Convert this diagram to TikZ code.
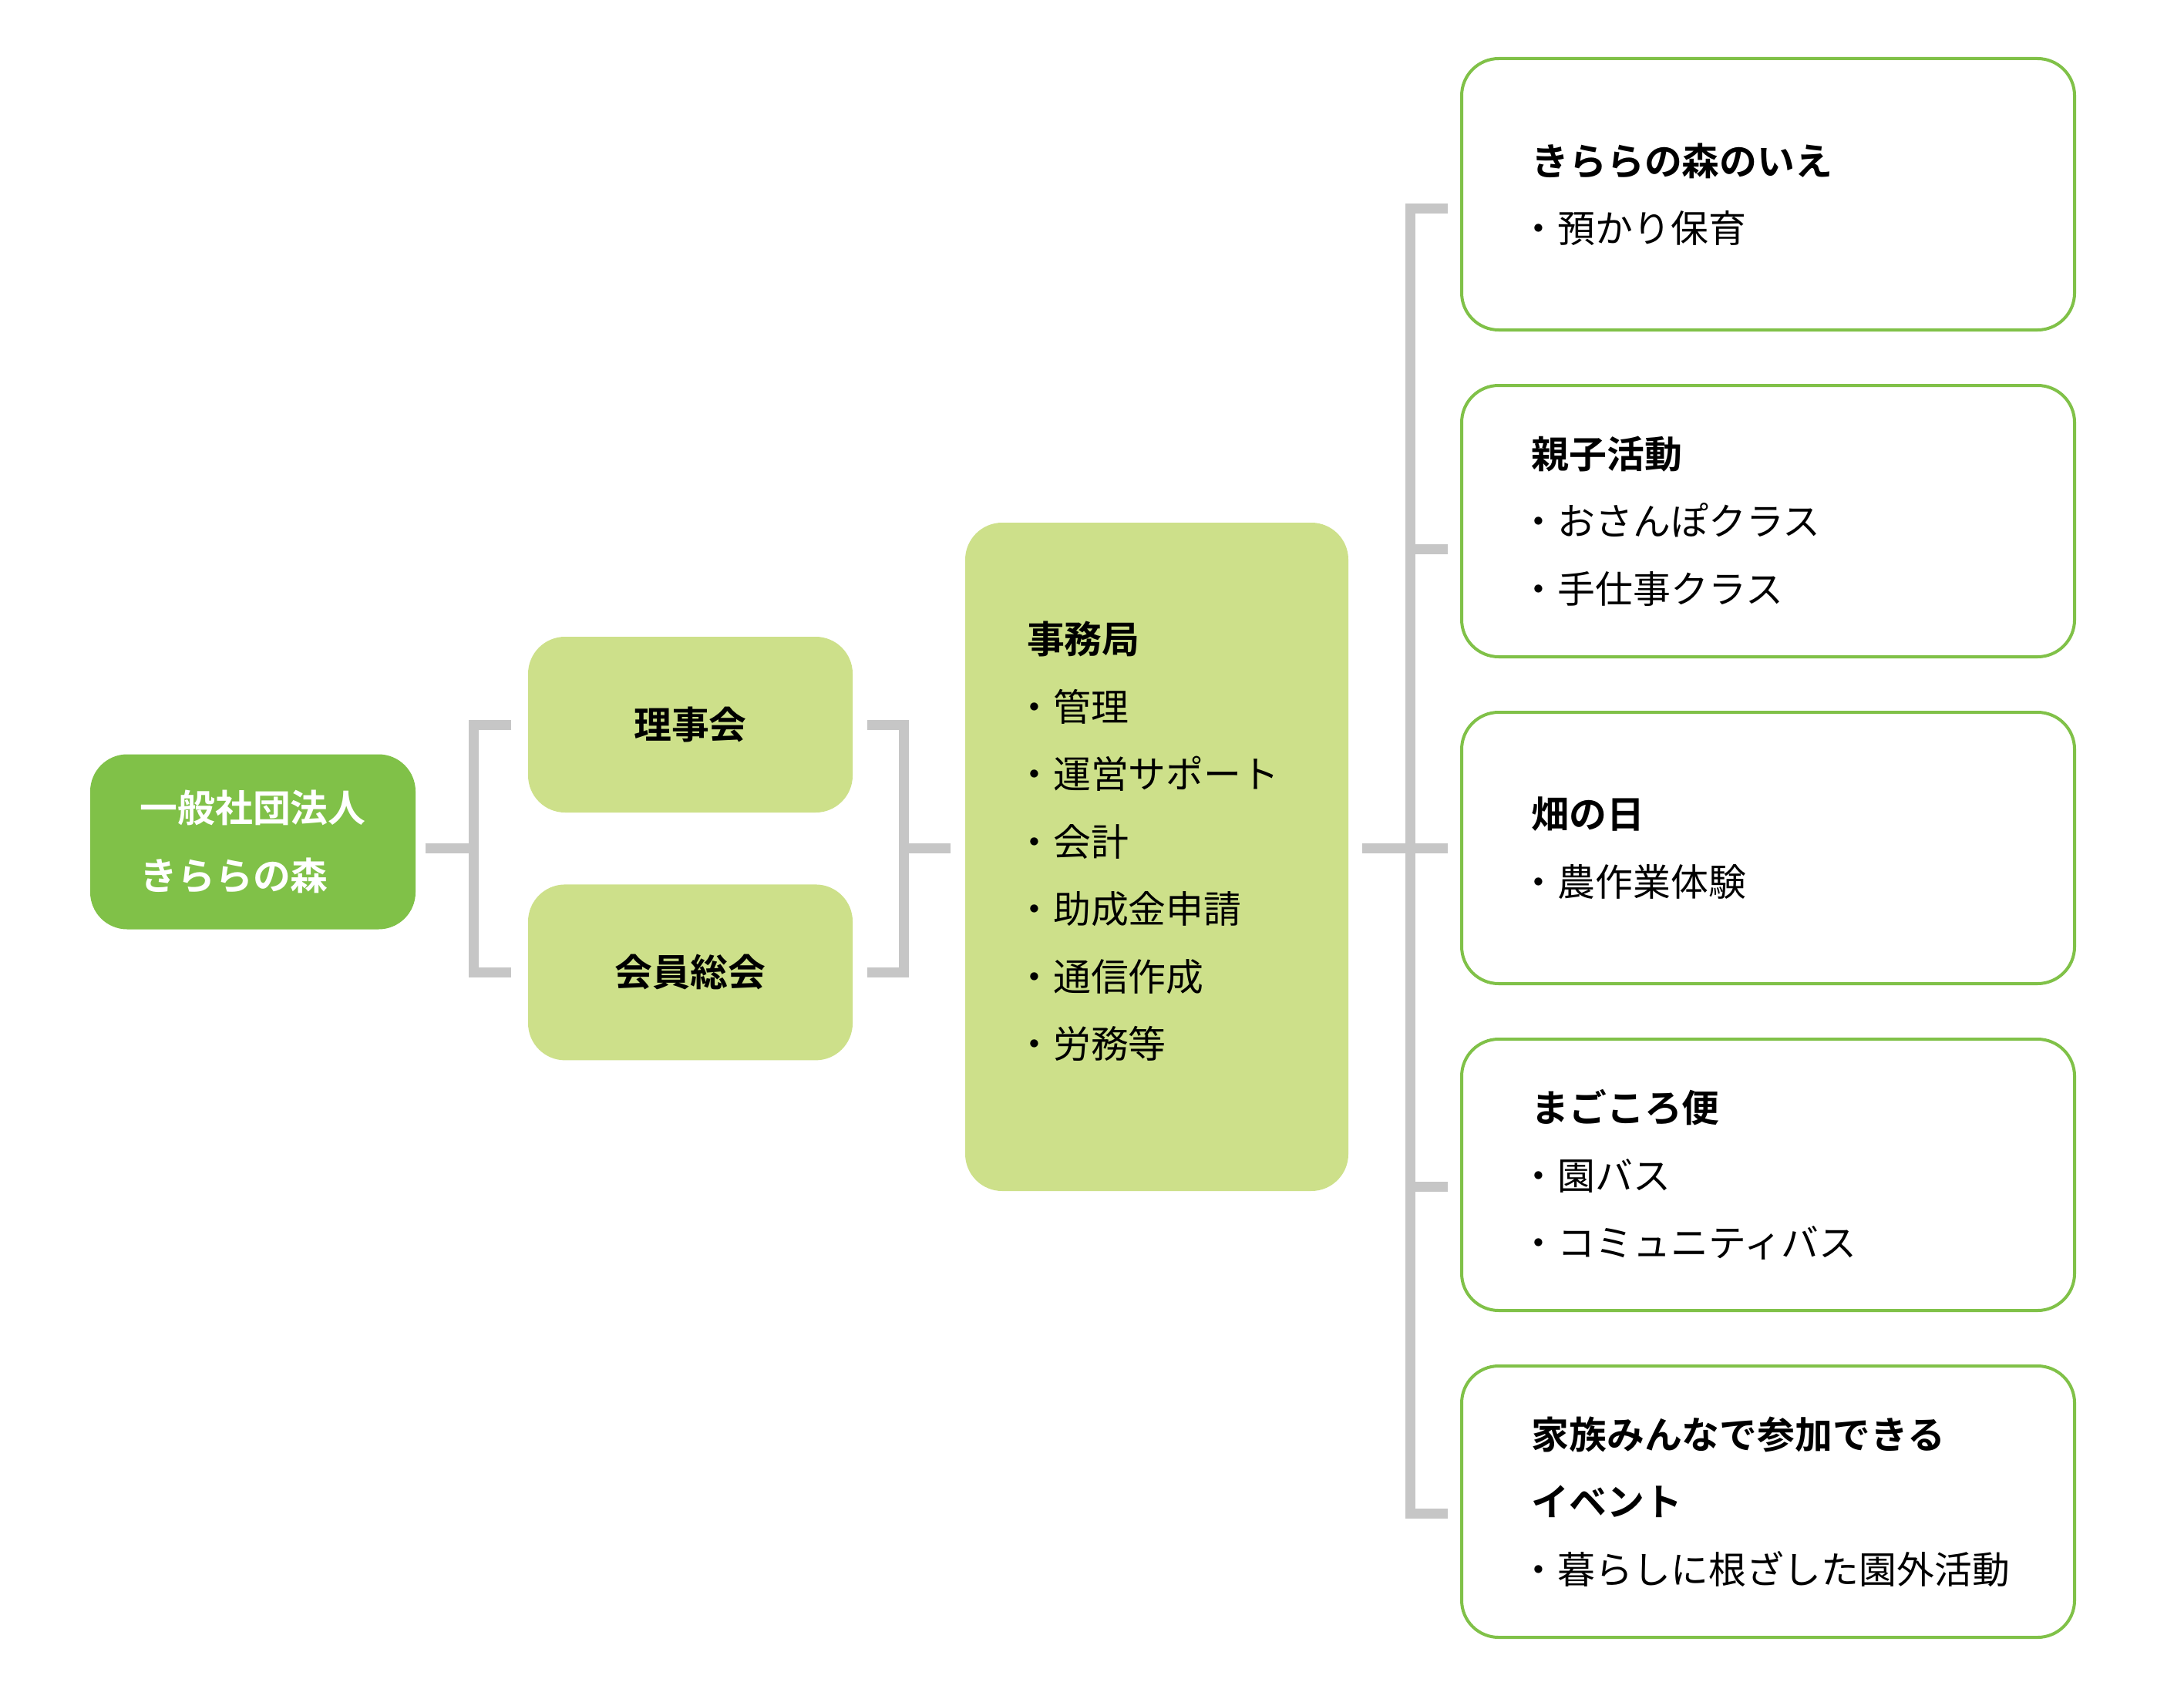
\documentclass[tikz,border=0pt]{standalone}
\usepackage{fontspec}
\setmainfont{Noto Sans CJK JP}[BoldFont={Noto Sans CJK JP Bold}]
\usetikzlibrary{positioning}

\definecolor{leafdark}{HTML}{80C148}
\definecolor{leaflight}{HTML}{CDE08A}
\definecolor{linegray}{HTML}{C6C6C6}

\newcommand{\orgtext}{\fontsize{13.9pt}{24.9pt}\selectfont}
\newcommand{\itm}{\makebox[.7em][l]{\hspace{-.3em}・}}

\begin{document}
\begin{tikzpicture}
			[every node/.style={font=\orgtext,rounded corners=.48cm},
			 rootbox/.style={fill=leafdark,text=white,font=\orgtext\bfseries,align=left,
			   minimum width=4.22cm,minimum height=2.27cm},
			 boardbox/.style={fill=leaflight,font=\orgtext\bfseries,
			   minimum width=4.21cm,minimum height=2.28cm},
			 officebox/.style={fill=leaflight,align=left,text width=3.37cm,
			   inner xsep=.8cm,minimum height=8.67cm},
			 projectbox/.style={draw=leafdark,line width=.04cm,align=left,text width=6.14cm,
			   inner xsep=.905cm,minimum height=3.52cm},
			 link/.style={draw=linegray,line width=.13cm,line join=miter},
			 node distance=.92cm]
			\useasboundingbox (0,0) rectangle (28.33,-22.03);

			\node[rootbox] (root) at (3.28,-10.92) {一般社団法人\\きららの森};

			\node[boardbox] (riji) at (8.955,-9.40) {理事会};
			\node[boardbox] (kaiin) [below=of riji] {会員総会};

			\node[officebox] (jimu) at (15.005,-11.115)
			  {\textbf{事務局}\\\itm 管理\\\itm 運営サポート\\\itm 会計\\
			   \itm 助成金申請\\\itm 通信作成\\\itm 労務等\par\vskip.4cm\hrule height 0pt};

			\node[projectbox] (b1) at (22.935,-2.52)
			  {\textbf{きららの森のいえ}\\\itm 預かり保育};
			\node[projectbox] (b2) [below=.68 of b1]
			  {\textbf{親子活動}\\\itm おさんぽクラス\\\itm 手仕事クラス};
			\node[projectbox] (b3) [below=.68 of b2]
			  {\textbf{畑の日}\\\itm 農作業体験};
			\node[projectbox] (b4) [below=.68 of b3]
			  {\textbf{まごころ便}\\\itm 園バス\\\itm コミュニティバス};
			\node[projectbox] (b5) [below=.68 of b4]
			  {\textbf{家族みんなで参加できる}\\\textbf{イベント}\\\itm 暮らしに根ざした園外活動};

			\coordinate (j1) at (6.145,-11.005);
			\coordinate (j2) at (11.725,-11.005);
			\coordinate (j3) at (18.295,-11.005);
			\coordinate (t1) at ([xshift=-.16cm,yshift=-.185cm]b1.west);
			\coordinate (t2) at ([xshift=-.16cm,yshift=-.365cm]b2.west);
			\coordinate (t3) at ([xshift=-.16cm]b3.west);
			\coordinate (t4) at ([xshift=-.16cm,yshift=-.155cm]b4.west);
			\coordinate (t5) at ([xshift=-.16cm,yshift=-.155cm]b5.west);

			\draw[link] ([xshift=.12cm]root.east |- j1) -- (j1);
			\draw[link] ([xshift=-.21cm]riji.west) -- (riji.west -| j1)
			  -- (kaiin.west -| j1) -- ([xshift=-.21cm]kaiin.west);
			\draw[link] ([xshift=.18cm]riji.east) -- (riji.east -| j2)
			  -- (kaiin.east -| j2) -- ([xshift=.18cm]kaiin.east);
			\draw[link] (j2) -- ([xshift=-.18cm]jimu.west |- j2);

			\draw[link] ([xshift=.17cm]jimu.east |- j3) -- (j3);
			\draw[link] (t1) -- (t1 -| j3) -- (t5 -| j3) -- (t5);
			\foreach \t in {t2,t3,t4}
			  \draw[link] (\t -| j3) -- (\t);
	  \end{tikzpicture}
\end{document}
